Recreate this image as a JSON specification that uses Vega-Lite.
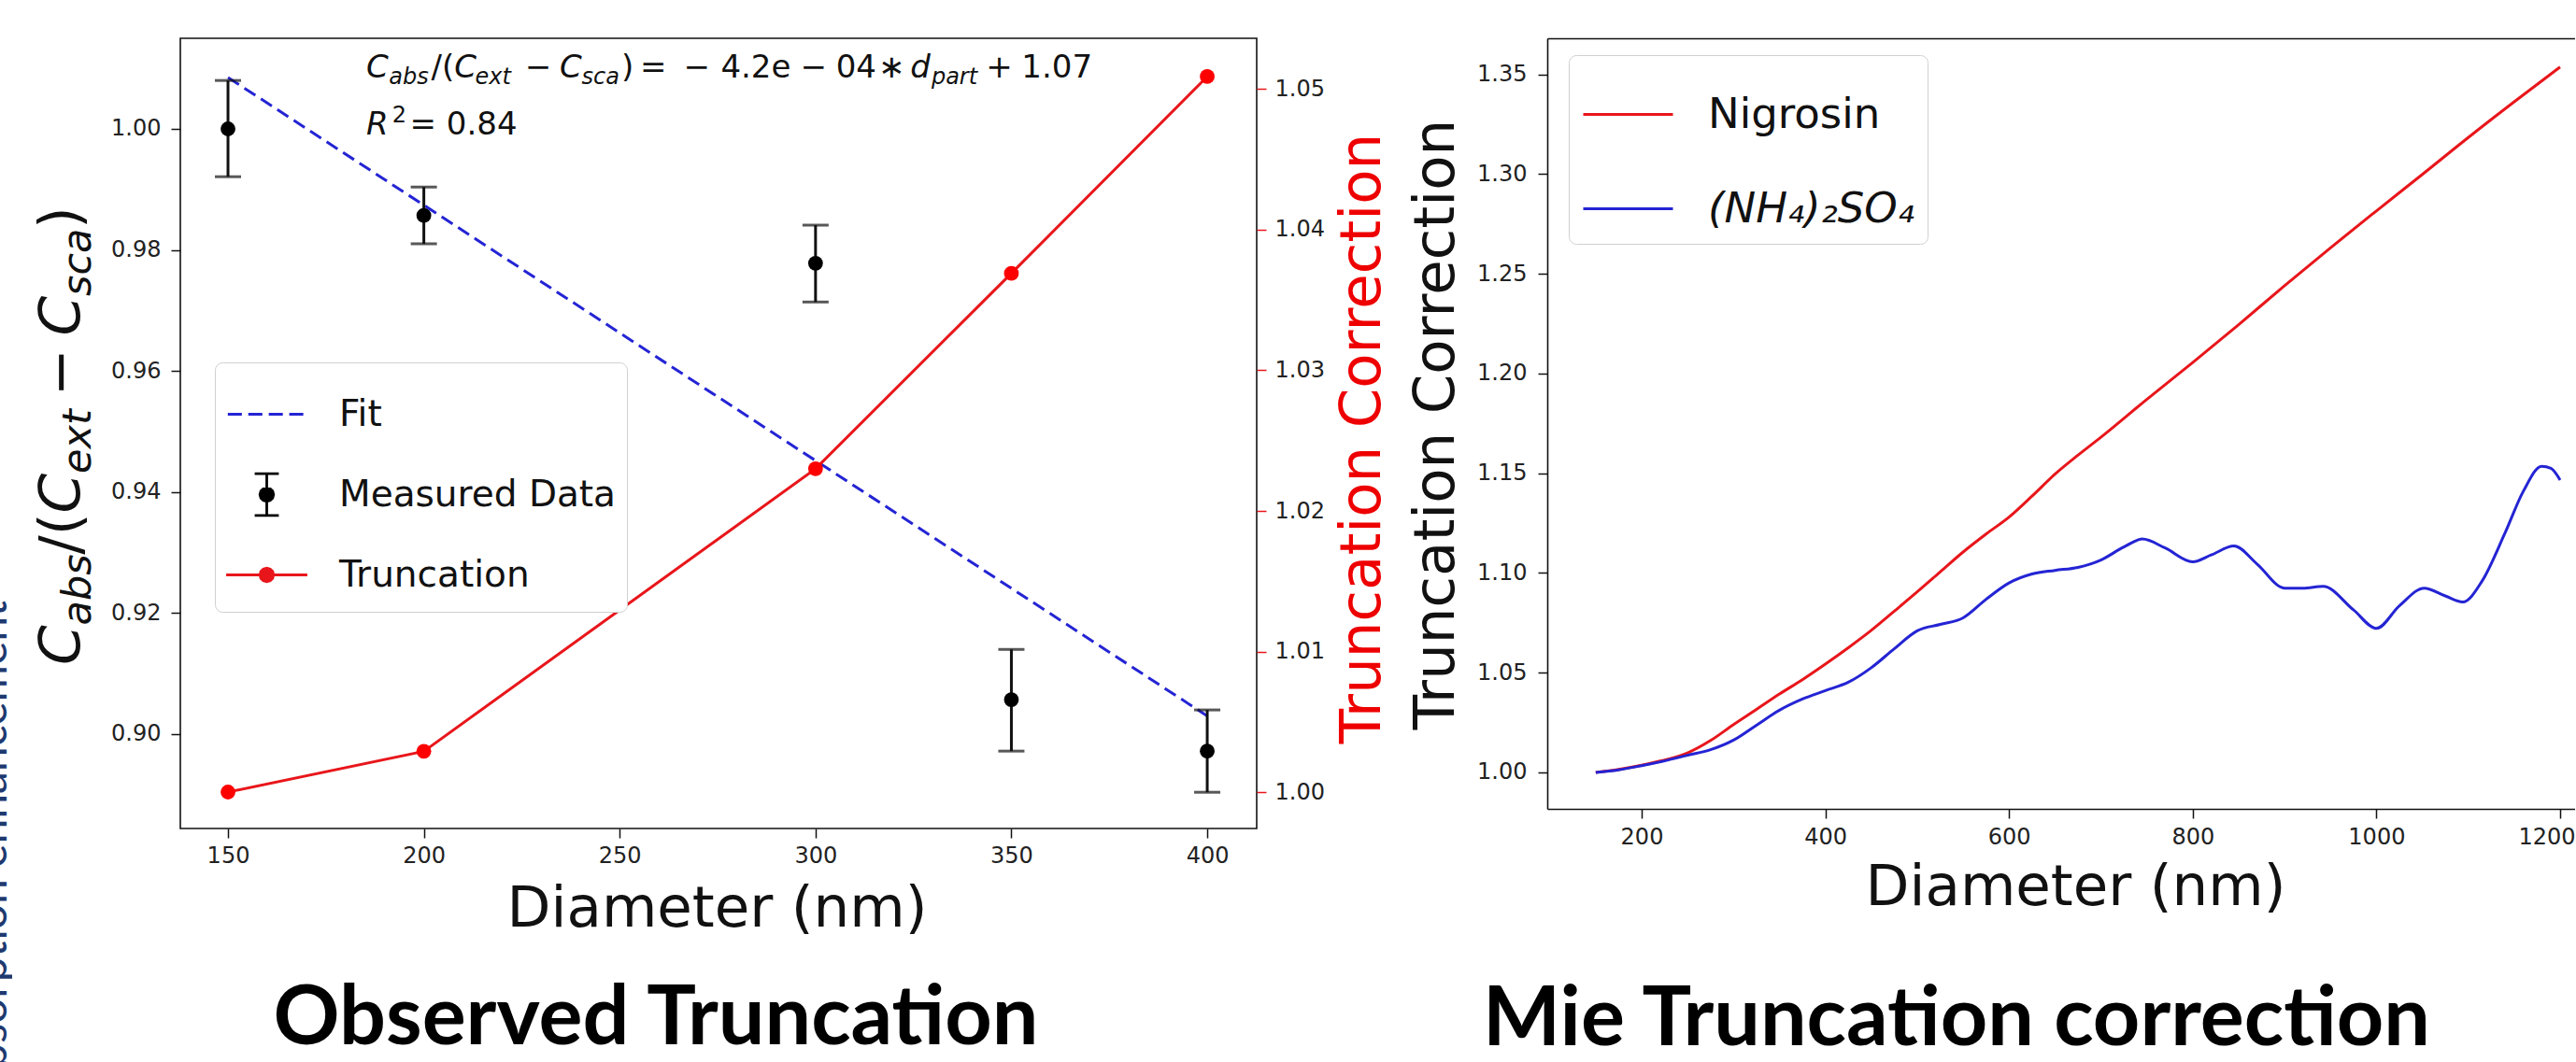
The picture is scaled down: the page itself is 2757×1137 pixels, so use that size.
{
  "$schema": "https://vega.github.io/schema/vega-lite/v6.json",
  "background": "white",
  "padding": {"left": 0, "top": 40, "right": 0, "bottom": 0},
  "config": {
    "view": {"stroke": null},
    "axis": {"grid": false, "labelFont": "DejaVu Sans", "labelFontSize": 24, "labelColor": "#222", "tickColor": "#111", "tickWidth": 1.5, "tickSize": 10, "domainColor": "#111", "domainWidth": 1.6, "titleFont": "DejaVu Sans", "titleFontWeight": "normal", "titleFontSize": 61, "titleColor": "#111"},
    "legend": {"labelFont": "DejaVu Sans", "labelColor": "#111", "labelLimit": 0}
  },
  "datasets": {
    "measured": [
      {"d": 150, "v": 1.0000, "lo": 0.9921, "hi": 1.0080},
      {"d": 200, "v": 0.9857, "lo": 0.9810, "hi": 0.9904},
      {"d": 300, "v": 0.9778, "lo": 0.9714, "hi": 0.9841},
      {"d": 350, "v": 0.9057, "lo": 0.8972, "hi": 0.9140},
      {"d": 400, "v": 0.8972, "lo": 0.8904, "hi": 0.9040}
    ],
    "fit": [{"d": 150, "v": 1.0085}, {"d": 400, "v": 0.9030}],
    "truncation": [
      {"d": 150, "t": 1.0000}, {"d": 200, "t": 1.0029}, {"d": 300, "t": 1.0230}, {"d": 350, "t": 1.0369}, {"d": 400, "t": 1.0509}
    ],
    "eqIt": [
      {"s": "C", "d": 185.3, "v": 1.00849}, {"s": "C", "d": 207.8, "v": 1.00849}, {"s": "C", "d": 234.7, "v": 1.00849}, {"s": "d", "d": 324.2, "v": 1.00849}, {"s": "R", "d": 185.3, "v": 0.999}
    ],
    "eqSub": [
      {"s": "abs", "d": 191.1, "v": 1.00741}, {"s": "ext", "d": 213.1, "v": 1.00741}, {"s": "sca", "d": 240.3, "v": 1.00741}, {"s": "part", "d": 329.6, "v": 1.00741}
    ],
    "eqUp": [
      {"s": "/(", "d": 201.9, "v": 1.00849}, {"s": "−", "d": 225.8, "v": 1.00849}, {"s": ")", "d": 250.4, "v": 1.00849}, {"s": "=", "d": 255.2, "v": 1.00849}, {"s": "−", "d": 266.3, "v": 1.00849}, {"s": "4.2e", "d": 275.8, "v": 1.00849}, {"s": "−", "d": 296.1, "v": 1.00849}, {"s": "04", "d": 305.2, "v": 1.00849}, {"s": "∗", "d": 316.0, "v": 1.00849}, {"s": "+", "d": 343.5, "v": 1.00849}, {"s": "1.07", "d": 352.6, "v": 1.00849}, {"s": "= 0.84", "d": 196.4, "v": 0.999}
    ],
    "eqSup": [{"s": "2", "d": 191.9, "v": 1.00108}],
    "ylabIt": [
      {"s": "C", "d": 112.07, "v": 0.91142}, {"s": "C", "d": 112.07, "v": 0.93650}, {"s": "C", "d": 112.07, "v": 0.96580}
    ],
    "ylabSub": [
      {"s": "abs", "d": 114.93, "v": 0.91799}, {"s": "ext", "d": 114.93, "v": 0.94307}, {"s": "sca", "d": 114.93, "v": 0.97238}
    ],
    "ylabUp": [
      {"s": "/(", "d": 112.07, "v": 0.92965}, {"s": "−", "d": 112.07, "v": 0.95577}, {"s": ")", "d": 112.07, "v": 0.98347}
    ],
    "legendLeft": [{"series": "Fit"}, {"series": "Measured Data"}, {"series": "Truncation"}],
    "sideNote": [{"s": "Absorption enhancement"}],
    "nigrosin": [
      {"d": 150, "v": 1.0000, "series": "Nigrosin"}, {"d": 175, "v": 1.0015, "series": "Nigrosin"}, {"d": 200, "v": 1.0036, "series": "Nigrosin"}, {"d": 225, "v": 1.0062, "series": "Nigrosin"}, {"d": 250, "v": 1.0098, "series": "Nigrosin"}, {"d": 275, "v": 1.0160, "series": "Nigrosin"}, {"d": 300, "v": 1.0240, "series": "Nigrosin"}, {"d": 325, "v": 1.0316, "series": "Nigrosin"}, {"d": 350, "v": 1.0393, "series": "Nigrosin"}, {"d": 375, "v": 1.0465, "series": "Nigrosin"}, {"d": 400, "v": 1.0543, "series": "Nigrosin"}, {"d": 425, "v": 1.0625, "series": "Nigrosin"}, {"d": 450, "v": 1.0712, "series": "Nigrosin"}, {"d": 475, "v": 1.0808, "series": "Nigrosin"}, {"d": 500, "v": 1.0905, "series": "Nigrosin"}, {"d": 525, "v": 1.1005, "series": "Nigrosin"}, {"d": 550, "v": 1.1105, "series": "Nigrosin"}, {"d": 575, "v": 1.1195, "series": "Nigrosin"}, {"d": 600, "v": 1.1280, "series": "Nigrosin"}, {"d": 625, "v": 1.1385, "series": "Nigrosin"}, {"d": 650, "v": 1.1495, "series": "Nigrosin"}, {"d": 675, "v": 1.1590, "series": "Nigrosin"}, {"d": 700, "v": 1.1680, "series": "Nigrosin"}, {"d": 750, "v": 1.1870, "series": "Nigrosin"}, {"d": 800, "v": 1.2055, "series": "Nigrosin"}, {"d": 850, "v": 1.2245, "series": "Nigrosin"}, {"d": 900, "v": 1.2440, "series": "Nigrosin"}, {"d": 950, "v": 1.2630, "series": "Nigrosin"}, {"d": 1000, "v": 1.2815, "series": "Nigrosin"}, {"d": 1050, "v": 1.2998, "series": "Nigrosin"}, {"d": 1100, "v": 1.3183, "series": "Nigrosin"}, {"d": 1150, "v": 1.3362, "series": "Nigrosin"}, {"d": 1200, "v": 1.3536, "series": "Nigrosin"}
    ],
    "ammonium": [
      {"d": 150, "v": 1.0000, "series": "(NH₄)₂SO₄"}, {"d": 175, "v": 1.0013, "series": "(NH₄)₂SO₄"}, {"d": 200, "v": 1.0034, "series": "(NH₄)₂SO₄"}, {"d": 225, "v": 1.0058, "series": "(NH₄)₂SO₄"}, {"d": 250, "v": 1.0086, "series": "(NH₄)₂SO₄"}, {"d": 275, "v": 1.0114, "series": "(NH₄)₂SO₄"}, {"d": 300, "v": 1.0162, "series": "(NH₄)₂SO₄"}, {"d": 325, "v": 1.0237, "series": "(NH₄)₂SO₄"}, {"d": 350, "v": 1.0312, "series": "(NH₄)₂SO₄"}, {"d": 375, "v": 1.0368, "series": "(NH₄)₂SO₄"}, {"d": 400, "v": 1.0410, "series": "(NH₄)₂SO₄"}, {"d": 425, "v": 1.0452, "series": "(NH₄)₂SO₄"}, {"d": 450, "v": 1.0525, "series": "(NH₄)₂SO₄"}, {"d": 475, "v": 1.0620, "series": "(NH₄)₂SO₄"}, {"d": 500, "v": 1.0710, "series": "(NH₄)₂SO₄"}, {"d": 525, "v": 1.0742, "series": "(NH₄)₂SO₄"}, {"d": 550, "v": 1.0775, "series": "(NH₄)₂SO₄"}, {"d": 575, "v": 1.0868, "series": "(NH₄)₂SO₄"}, {"d": 600, "v": 1.0950, "series": "(NH₄)₂SO₄"}, {"d": 625, "v": 1.0995, "series": "(NH₄)₂SO₄"}, {"d": 650, "v": 1.1013, "series": "(NH₄)₂SO₄"}, {"d": 675, "v": 1.1028, "series": "(NH₄)₂SO₄"}, {"d": 700, "v": 1.1065, "series": "(NH₄)₂SO₄"}, {"d": 725, "v": 1.1130, "series": "(NH₄)₂SO₄"}, {"d": 745, "v": 1.1170, "series": "(NH₄)₂SO₄"}, {"d": 770, "v": 1.1125, "series": "(NH₄)₂SO₄"}, {"d": 800, "v": 1.1056, "series": "(NH₄)₂SO₄"}, {"d": 820, "v": 1.1090, "series": "(NH₄)₂SO₄"}, {"d": 845, "v": 1.1135, "series": "(NH₄)₂SO₄"}, {"d": 870, "v": 1.1045, "series": "(NH₄)₂SO₄"}, {"d": 900, "v": 1.0924, "series": "(NH₄)₂SO₄"}, {"d": 920, "v": 1.0923, "series": "(NH₄)₂SO₄"}, {"d": 942, "v": 1.0933, "series": "(NH₄)₂SO₄"}, {"d": 975, "v": 1.0815, "series": "(NH₄)₂SO₄"}, {"d": 1000, "v": 1.0722, "series": "(NH₄)₂SO₄"}, {"d": 1025, "v": 1.0835, "series": "(NH₄)₂SO₄"}, {"d": 1052, "v": 1.0924, "series": "(NH₄)₂SO₄"}, {"d": 1075, "v": 1.0885, "series": "(NH₄)₂SO₄"}, {"d": 1094, "v": 1.0854, "series": "(NH₄)₂SO₄"}, {"d": 1115, "v": 1.0959, "series": "(NH₄)₂SO₄"}, {"d": 1140, "v": 1.1200, "series": "(NH₄)₂SO₄"}, {"d": 1160, "v": 1.1410, "series": "(NH₄)₂SO₄"}, {"d": 1180, "v": 1.1535, "series": "(NH₄)₂SO₄"}, {"d": 1190, "v": 1.1525, "series": "(NH₄)₂SO₄"}, {"d": 1200, "v": 1.1466, "series": "(NH₄)₂SO₄"}
    ]
  },
  "hconcat": [
    {
      "hconcat": [
        {
          "width": 13,
          "height": 1097,
          "data": {"name": "sideNote"},
          "mark": {"type": "text", "clip": true, "align": "right", "baseline": "alphabetic", "angle": 270, "font": "Lato", "fontSize": 48, "color": "#1f3a70"},
          "encoding": {
            "x": {"datum": 0.54, "type": "quantitative", "scale": {"domain": [0, 1], "nice": false, "zero": false}, "axis": null},
            "y": {"datum": 0.4512, "type": "quantitative", "scale": {"domain": [0, 1], "nice": false, "zero": false}, "axis": null},
            "text": {"field": "s", "type": "nominal"}
          }
        },
        {
          "width": 1152,
          "height": 846,
          "view": {"stroke": "#111", "strokeWidth": 1.6},
          "title": {"text": "Observed Truncation", "orient": "bottom", "anchor": "middle", "frame": "group", "dx": -67, "offset": 45, "font": "Lato", "fontSize": 88, "fontWeight": "bold", "color": "#000"},
          "encoding": {
            "x": {"field": "d", "type": "quantitative", "scale": {"domain": [137.83, 412.63], "nice": false, "zero": false}, "axis": {"values": [150, 200, 250, 300, 350, 400], "format": "d", "title": "Diameter (nm)", "titleBaseline": "alphabetic", "titleX": 574, "titleY": 104, "labelPadding": 7, "domain": false}}
          },
          "layer": [
            {
              "encoding": {
                "y": {"field": "v", "type": "quantitative", "scale": {"domain": [0.884413, 1.014969], "nice": false, "zero": false}, "axis": {"values": [0.9, 0.92, 0.94, 0.96, 0.98, 1.0], "format": ".2f", "title": null, "labelPadding": 11, "domain": false}}
              },
              "layer": [
                {"data": {"name": "fit"}, "mark": {"type": "line", "color": "#2424d4", "strokeWidth": 3, "strokeDash": [14, 7]}, "encoding": {}},
                {"data": {"name": "measured"}, "mark": {"type": "rule", "color": "#111", "strokeWidth": 3},
                 "encoding": {"y": {"field": "lo", "type": "quantitative", "scale": {"domain": [0.884413, 1.014969], "nice": false, "zero": false}, "axis": {"values": [0.9, 0.92, 0.94, 0.96, 0.98, 1.0], "format": ".2f", "title": null, "labelPadding": 11, "domain": false}}, "y2": {"field": "hi"}}},
                {"data": {"name": "measured"}, "mark": {"type": "tick", "orient": "horizontal", "size": 28, "thickness": 3, "color": "#111"},
                 "encoding": {"y": {"field": "hi", "type": "quantitative", "scale": {"domain": [0.884413, 1.014969], "nice": false, "zero": false}, "axis": {"values": [0.9, 0.92, 0.94, 0.96, 0.98, 1.0], "format": ".2f", "title": null, "labelPadding": 11, "domain": false}}}},
                {"data": {"name": "measured"}, "mark": {"type": "tick", "orient": "horizontal", "size": 28, "thickness": 3, "color": "#111"},
                 "encoding": {"y": {"field": "lo", "type": "quantitative", "scale": {"domain": [0.884413, 1.014969], "nice": false, "zero": false}, "axis": {"values": [0.9, 0.92, 0.94, 0.96, 0.98, 1.0], "format": ".2f", "title": null, "labelPadding": 11, "domain": false}}}},
                {"data": {"name": "measured"}, "mark": {"type": "point", "filled": true, "size": 250, "color": "#000", "opacity": 1}, "encoding": {}},
                {"data": {"name": "eqUp"}, "mark": {"type": "text", "align": "left", "baseline": "alphabetic", "font": "DejaVu Sans", "fontSize": 34, "color": "#111"}, "encoding": {"text": {"field": "s", "type": "nominal"}}},
                {"data": {"name": "eqIt"}, "mark": {"type": "text", "align": "left", "baseline": "alphabetic", "font": "DejaVu Sans", "fontStyle": "italic", "fontSize": 34, "color": "#111"}, "encoding": {"text": {"field": "s", "type": "nominal"}}},
                {"data": {"name": "eqSub"}, "mark": {"type": "text", "align": "left", "baseline": "alphabetic", "font": "DejaVu Sans", "fontStyle": "italic", "fontSize": 24, "color": "#111"}, "encoding": {"text": {"field": "s", "type": "nominal"}}},
                {"data": {"name": "eqSup"}, "mark": {"type": "text", "align": "left", "baseline": "alphabetic", "font": "DejaVu Sans", "fontSize": 24, "color": "#111"}, "encoding": {"text": {"field": "s", "type": "nominal"}}},
                {"data": {"name": "ylabUp"}, "mark": {"type": "text", "align": "left", "baseline": "alphabetic", "angle": 270, "font": "DejaVu Sans", "fontSize": 61, "color": "#111"}, "encoding": {"text": {"field": "s", "type": "nominal"}}},
                {"data": {"name": "ylabIt"}, "mark": {"type": "text", "align": "left", "baseline": "alphabetic", "angle": 270, "font": "DejaVu Sans", "fontStyle": "italic", "fontSize": 61, "color": "#111"}, "encoding": {"text": {"field": "s", "type": "nominal"}}},
                {"data": {"name": "ylabSub"}, "mark": {"type": "text", "align": "left", "baseline": "alphabetic", "angle": 270, "font": "DejaVu Sans", "fontStyle": "italic", "fontSize": 43, "color": "#111"}, "encoding": {"text": {"field": "s", "type": "nominal"}}},
                {
                  "data": {"name": "legendLeft"},
                  "mark": {"type": "point", "filled": false, "opacity": 0},
                  "encoding": {
                    "x": {"datum": 300, "type": "quantitative", "scale": {"domain": [137.83, 412.63], "nice": false, "zero": false}, "axis": {"values": [150, 200, 250, 300, 350, 400], "format": "d", "title": "Diameter (nm)", "titleBaseline": "alphabetic", "titleX": 574, "titleY": 104, "labelPadding": 7, "domain": false}},
                    "y": {"datum": 0.95, "type": "quantitative", "scale": {"domain": [0.884413, 1.014969], "nice": false, "zero": false}, "axis": {"values": [0.9, 0.92, 0.94, 0.96, 0.98, 1.0], "format": ".2f", "title": null, "labelPadding": 11, "domain": false}},
                    "color": {"field": "series", "type": "nominal",
                      "scale": {"domain": ["Fit", "Measured Data", "Truncation"], "range": ["#2424d4", "#000000", "#e8161b"]},
                      "legend": {"orient": "none", "legendX": 37, "legendY": 347, "title": null, "symbolSize": 7396, "symbolStrokeWidth": 2.8, "symbolOpacity": 1, "labelFontSize": 39, "labelOffset": 33, "padding": 11, "rowPadding": 13, "symbolOffset": 0, "fillColor": "#ffffff", "strokeColor": "#d0d0d0", "cornerRadius": 8}},
                    "shape": {"field": "series", "type": "nominal",
                      "scale": {"domain": ["Fit", "Measured Data", "Truncation"], "range": [
                        "M-0.97,0L-0.62,0M-0.46,0L-0.11,0M0.05,0L0.4,0M0.56,0L0.91,0M-1.01,-0.52L-1.01,-0.52M1.01,0.52L1.01,0.52",
                        "M0,-0.52L0,0.52M-0.3,-0.52L0.3,-0.52M-0.3,0.52L0.3,0.52M0.17,0L0.147,0.085L0.085,0.147L0,0.17L-0.085,0.147L-0.147,0.085L-0.17,0L-0.147,-0.085L-0.085,-0.147L0,-0.17L0.085,-0.147L0.147,-0.085ZM0.115,0L0.1,0.058L0.058,0.1L0,0.115L-0.058,0.1L-0.1,0.058L-0.115,0L-0.1,-0.058L-0.058,-0.1L0,-0.115L0.058,-0.1L0.1,-0.058ZM0.06,0L0.03,0.052L-0.03,0.052L-0.06,0L-0.03,-0.052L0.03,-0.052ZM0.015,0L0,0.015L-0.015,0L0,-0.015ZM-1.01,-0.52L-1.01,-0.52M1.01,0.52L1.01,0.52",
                        "M-1.01,0L1.01,0M0.17,0L0.147,0.085L0.085,0.147L0,0.17L-0.085,0.147L-0.147,0.085L-0.17,0L-0.147,-0.085L-0.085,-0.147L0,-0.17L0.085,-0.147L0.147,-0.085ZM0.115,0L0.1,0.058L0.058,0.1L0,0.115L-0.058,0.1L-0.1,0.058L-0.115,0L-0.1,-0.058L-0.058,-0.1L0,-0.115L0.058,-0.1L0.1,-0.058ZM0.06,0L0.03,0.052L-0.03,0.052L-0.06,0L-0.03,-0.052L0.03,-0.052ZM0.015,0L0,0.015L-0.015,0L0,-0.015ZM-1.01,-0.52L-1.01,-0.52M1.01,0.52L1.01,0.52"
                      ]},
                      "legend": {"orient": "none", "legendX": 37, "legendY": 347, "title": null, "symbolSize": 7396, "symbolStrokeWidth": 2.8, "symbolOpacity": 1, "labelFontSize": 39, "labelOffset": 33, "padding": 11, "rowPadding": 13, "symbolOffset": 0, "fillColor": "#ffffff", "strokeColor": "#d0d0d0", "cornerRadius": 8}}
                  }
                }
              ]
            },
            {
              "data": {"name": "truncation"},
              "encoding": {
                "y": {"field": "t", "type": "quantitative", "scale": {"domain": [0.997409, 1.053621], "nice": false, "zero": false}, "axis": {"orient": "right", "values": [1.0, 1.01, 1.02, 1.03, 1.04, 1.05], "format": ".2f", "title": "Truncation Correction", "titleColor": "#ee0000", "titleAngle": 270, "titleBaseline": "alphabetic", "titleX": 131, "titleY": 428, "labelPadding": 9, "tickColor": "#e8161b", "domain": false}}
              },
              "layer": [
                {"mark": {"type": "line", "color": "#e8161b", "strokeWidth": 3}, "encoding": {}},
                {"mark": {"type": "point", "filled": true, "size": 250, "color": "#ff0000", "opacity": 1}, "encoding": {}}
              ]
            }
          ],
          "resolve": {"scale": {"y": "independent"}}
        }
      ],
      "spacing": 180,
      "bounds": "flush",
      "resolve": {"scale": {"color": "independent", "shape": "independent"}, "legend": {"color": "independent", "shape": "independent"}}
    },
    {
      "width": 1100,
      "height": 825,
      "title": {"text": "Mie Truncation correction", "orient": "bottom", "anchor": "middle", "frame": "group", "dx": -112, "offset": 69, "font": "Lato", "fontSize": 88, "fontWeight": "bold", "color": "#000"},
      "layer": [
        {
          "data": {"name": "nigrosin"},
          "mark": {"type": "line", "strokeWidth": 3, "interpolate": "monotone"},
          "encoding": {
            "x": {"field": "d", "type": "quantitative", "scale": {"domain": [97.25, 1216.3], "nice": false, "zero": false}, "axis": {"values": [200, 400, 600, 800, 1000, 1200], "format": "d", "title": "Diameter (nm)", "titleBaseline": "alphabetic", "titleX": 565, "titleY": 102, "labelPadding": 8, "labelFlush": 30, "labelFlushOffset": 16, "domain": true}},
            "y": {"field": "v", "type": "quantitative", "scale": {"domain": [0.981738, 1.368029], "nice": false, "zero": false}, "axis": {"values": [1.0, 1.05, 1.1, 1.15, 1.2, 1.25, 1.3, 1.35], "format": ".2f", "title": "Truncation Correction", "titleBaseline": "alphabetic", "titleX": -101, "titleY": 413, "labelPadding": 12, "domain": true}},
            "color": {"field": "series", "type": "nominal", "scale": {"domain": ["Nigrosin", "(NH₄)₂SO₄"], "range": ["#e8161b", "#2424d4"]},
              "legend": {"orient": "none", "legendX": 23, "legendY": 18, "title": null, "symbolType": "stroke", "symbolSize": 9216, "symbolStrokeWidth": 3, "labelFontSize": 45, "labelOffset": 36, "padding": 14, "rowPadding": 28, "symbolOffset": 0, "fillColor": "#ffffff", "strokeColor": "#d0d0d0", "cornerRadius": 8,
                "encode": {"labels": {"update": {"fontStyle": {"signal": "datum.value === 'Nigrosin' ? 'normal' : 'italic'"}}}}}}
          }
        },
        {
          "data": {"name": "ammonium"},
          "mark": {"type": "line", "strokeWidth": 3, "interpolate": "monotone"},
          "encoding": {
            "x": {"field": "d", "type": "quantitative", "scale": {"domain": [97.25, 1216.3], "nice": false, "zero": false}, "axis": {"orient": "top", "labels": false, "ticks": false, "title": null, "domain": true}},
            "y": {"field": "v", "type": "quantitative", "scale": {"domain": [0.981738, 1.368029], "nice": false, "zero": false}, "axis": {"values": [1.0, 1.05, 1.1, 1.15, 1.2, 1.25, 1.3, 1.35], "format": ".2f", "title": "Truncation Correction", "titleBaseline": "alphabetic", "titleX": -101, "titleY": 413, "labelPadding": 12, "domain": true}},
            "color": {"field": "series", "type": "nominal", "scale": {"domain": ["Nigrosin", "(NH₄)₂SO₄"], "range": ["#e8161b", "#2424d4"]},
              "legend": {"orient": "none", "legendX": 23, "legendY": 18, "title": null, "symbolType": "stroke", "symbolSize": 9216, "symbolStrokeWidth": 3, "labelFontSize": 45, "labelOffset": 36, "padding": 14, "rowPadding": 28, "symbolOffset": 0, "fillColor": "#ffffff", "strokeColor": "#d0d0d0", "cornerRadius": 8,
                "encode": {"labels": {"update": {"fontStyle": {"signal": "datum.value === 'Nigrosin' ? 'normal' : 'italic'"}}}}}}
          }
        }
      ],
      "resolve": {"axis": {"x": "independent"}}
    }
  ],
  "spacing": 17,
  "bounds": "full",
  "resolve": {"scale": {"color": "independent", "shape": "independent"}, "legend": {"color": "independent", "shape": "independent"}}
}
